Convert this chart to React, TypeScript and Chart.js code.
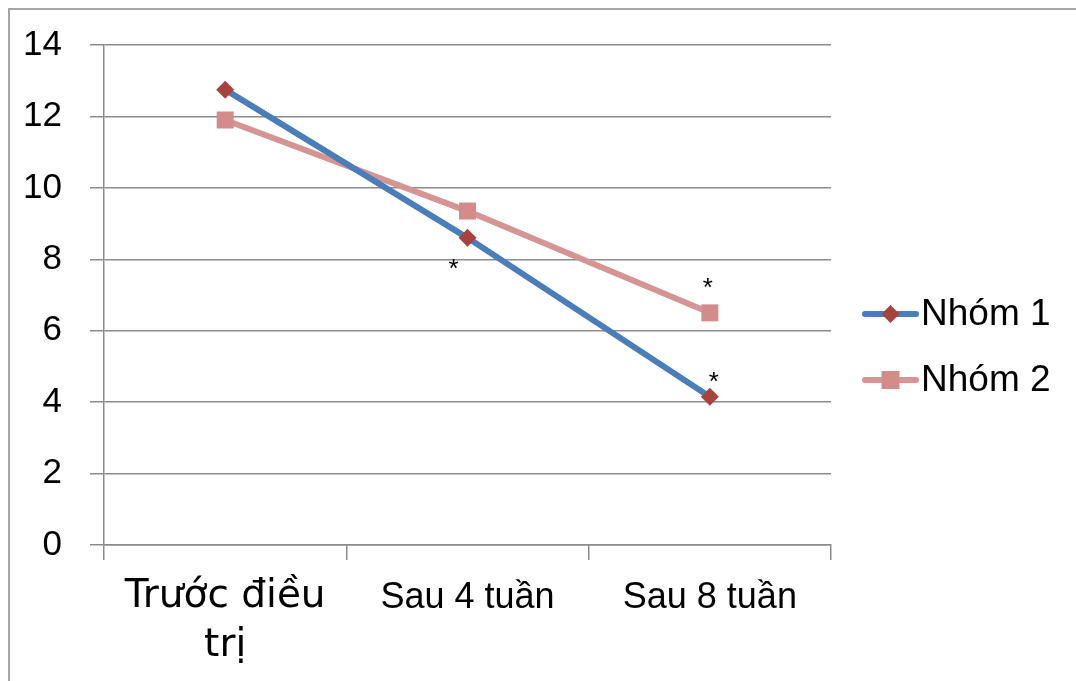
import React, { useEffect, useRef } from "react";
import { Chart, registerables } from "chart.js";

Chart.register(...registerables);

const categories: (string | string[])[] = [["Trước điều", "trị"], "Sau 4 tuần", "Sau 8 tuần"];
const group1Label = "Nhóm 1";
const group2Label = "Nhóm 2";
const group1Values = [12.75, 8.6, 4.15];
const group2Values = [11.9, 9.35, 6.5];
const yTicks = [0, 2, 4, 6, 8, 10, 12, 14];
// significance marks: [datasetIndex, categoryIndex]
const starMarks: [number, number][] = [[0, 1], [1, 2], [0, 2]];

const FONT = "'Liberation Sans', Arial, sans-serif";
const FONT_WIDE = "'DejaVu Sans', 'Liberation Sans', sans-serif";

export default function App() {
  const ref = useRef<HTMLCanvasElement | null>(null);

  useEffect(() => {
    if (!ref.current) return;
    const starOffsets = [[-14, 27], [-2, -29], [4, -19]];

    const decor = {
      id: "decor",
      beforeDraw(chart: any) {
        const ctx = chart.ctx;
        ctx.save();
        ctx.fillStyle = "#ffffff";
        ctx.fillRect(0, 0, chart.width, chart.height);
        ctx.strokeStyle = "#a6a6a6";
        ctx.lineWidth = 2;
        ctx.beginPath();
        ctx.moveTo(9, chart.height);
        ctx.lineTo(9, 9);
        ctx.lineTo(chart.width, 9);
        ctx.stroke();
        ctx.restore();
      },
      afterDraw(chart: any) {
        const ctx = chart.ctx;
        ctx.save();
        // stars
        ctx.fillStyle = "#000";
        ctx.font = `26px ${FONT}`;
        ctx.textAlign = "center";
        ctx.textBaseline = "middle";
        starMarks.forEach(([ds, ci], i) => {
          const el = chart.getDatasetMeta(ds).data[ci];
          ctx.fillText("*", el.x + starOffsets[i][0], el.y + starOffsets[i][1] + 5);
        });
        // legend
        const x0 = 865, x1 = 916, tx = 921;
        const ys = [314, 380];
        chart.data.datasets.forEach((d: any, i: number) => {
          const y = ys[i];
          ctx.strokeStyle = d.borderColor;
          ctx.lineWidth = d.borderWidth;
          ctx.lineCap = "round";
          ctx.beginPath();
          ctx.moveTo(x0, y);
          ctx.lineTo(x1, y);
          ctx.stroke();
          ctx.fillStyle = d.pointBackgroundColor;
          const cx = (x0 + x1) / 2;
          ctx.beginPath();
          if (d.pointStyle === "rectRot") {
            const r = 9;
            ctx.moveTo(cx, y - r);
            ctx.lineTo(cx + r, y);
            ctx.lineTo(cx, y + r);
            ctx.lineTo(cx - r, y);
            ctx.closePath();
          } else {
            ctx.rect(cx - 9, y - 9, 18, 18);
          }
          ctx.fill();
          ctx.fillStyle = "#000";
          ctx.font = `37px ${FONT}`;
          ctx.textAlign = "left";
          ctx.textBaseline = "middle";
          ctx.fillText(d.label, tx, y + 1);
        });
        ctx.restore();
      },
    };

    const chart = new Chart(ref.current, {
      type: "line",
      data: {
        labels: categories,
        datasets: [
          {
            label: group1Label,
            data: group1Values,
            borderColor: "#4a7ebb",
            borderWidth: 6,
            pointStyle: "rectRot",
            pointRadius: 9,
            pointBackgroundColor: "#a8423f",
            pointBorderColor: "#a8423f",
            pointBorderWidth: 0,
            tension: 0,
          },
          {
            label: group2Label,
            data: group2Values,
            borderColor: "#d69593",
            borderWidth: 6,
            pointStyle: "rect",
            pointRadius: 12,
            pointBackgroundColor: "#d48c8a",
            pointBorderColor: "#d48c8a",
            pointBorderWidth: 0,
            tension: 0,
          },
        ],
      },
      options: {
        animation: false,
        responsive: false,
        devicePixelRatio: 1,
        layout: { padding: { top: 45, right: 245, left: 0, bottom: 0 } },
        plugins: { legend: { display: false }, tooltip: { enabled: false } },
        scales: {
          x: {
            offset: true,
            afterFit(scale: any) {
              scale.height = 136;
              scale.paddingLeft = 0;
              scale.paddingRight = 0;
            },
            grid: {
              offset: true,
              drawOnChartArea: false,
              drawTicks: true,
              tickLength: 15,
              color: "#8c8c8c",
              lineWidth: 1.5,
            },
            border: { display: true, color: "#8c8c8c", width: 1.5 },
            ticks: {
              color: "#000",
              padding: 12,
              maxRotation: 0,
              autoSkip: false,
              font: (c: any) =>
                c.index === 0
                  ? { family: FONT_WIDE, size: 39, lineHeight: 1.27 }
                  : { family: FONT, size: 36, lineHeight: 1.45 },
            },
          },
          y: {
            min: 0,
            max: 14,
            afterFit(scale: any) {
              scale.width = 104;
              scale.paddingTop = 0;
              scale.paddingBottom = 0;
            },
            afterBuildTicks(scale: any) {
              scale.ticks = yTicks.map((v) => ({ value: v }));
            },
            grid: {
              drawTicks: true,
              tickLength: 14,
              color: "#8c8c8c",
              lineWidth: 1.5,
            },
            border: { display: true, color: "#8c8c8c", width: 1.5 },
            ticks: {
              color: "#000",
              padding: 28,
              font: { family: FONT, size: 35 },
            },
          },
        },
      },
      plugins: [decor],
    });
    return () => chart.destroy();
  }, []);

  return (
    <div style={{ position: "absolute", left: 0, top: 0, width: 1076, height: 681 }}>
      <canvas ref={ref} width={1076} height={681} style={{ display: "block", width: 1076, height: 681 }} />
    </div>
  );
}
